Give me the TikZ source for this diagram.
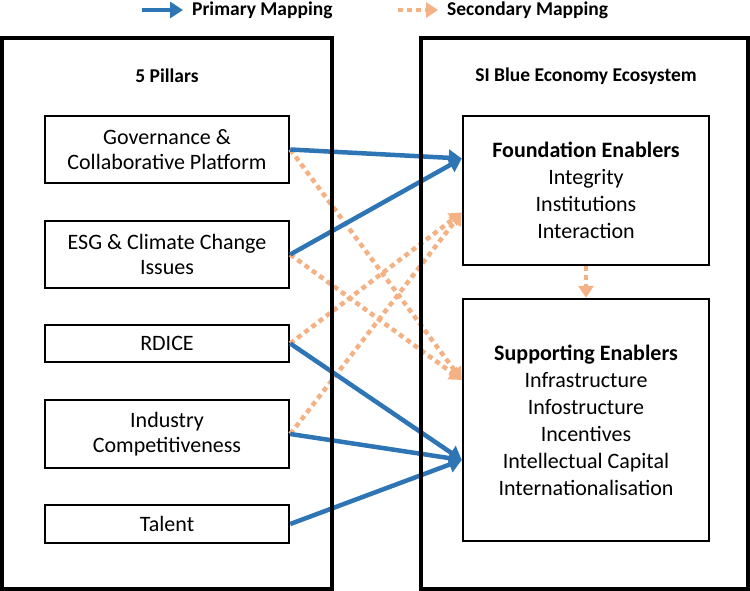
\documentclass[tikz,border=0pt]{standalone}
\usepackage{fontspec}
\setmainfont{Carlito}
\usetikzlibrary{arrows.meta}
\definecolor{pblue}{RGB}{46,117,182}
\definecolor{sorange}{RGB}{244,177,131}
\begin{document}
\begin{tikzpicture}[x=1pt,y=-1pt,
  frame/.style={draw=black, line width=3.5pt, inner sep=0pt, minimum height=551pt},
  pillar/.style={draw=black, line width=2.5pt, minimum width=244pt, align=center, inner sep=0pt, font=\fontsize{22}{25.5}\selectfont},
  enabler/.style={draw=black, line width=2.5pt, minimum width=246pt, align=center, inner sep=0pt, font=\fontsize{22}{27}\selectfont},
  head/.style={font=\bfseries\fontsize{19.5}{22}\selectfont, inner sep=0pt},
  legendtext/.style={font=\bfseries\fontsize{19.5}{22}\selectfont, inner sep=0pt, anchor=west},
  primary/.style={draw=pblue, line width=4.5pt, -{Triangle[length=13pt,width=16pt]}},
  secondary/.style={draw=sorange, line width=4.5pt, dash pattern=on 5pt off 4pt, -{Triangle[length=12pt,width=15pt]}}]
\useasboundingbox (0,0) rectangle (750,591);
% legend
\coordinate (lp1) at (142,10);
\coordinate (lp2) at (183,10);
\coordinate (ls1) at (398,10);
\coordinate (ls2) at (438,10);
\draw[primary, line width=4pt] (lp1) -- (lp2);
\draw[secondary, line width=4pt] (ls1) -- (ls2);
\node[legendtext] (lpt) at (192,10) {Primary Mapping};
\node[legendtext] (lst) at (447,10) {Secondary Mapping};
% headers
\node[head] (h1) at (167,76) {5 Pillars};
\node[head] (h2) at (586,76) {SI Blue Economy Ecosystem};
% pillars
\node[pillar, minimum height=67pt] (gov) at (167,149.5) {Governance \&\\Collaborative Platform};
\node[pillar, minimum height=67pt] (esg) at (167,254.5) {ESG \& Climate Change\\Issues};
\node[pillar, minimum height=37pt] (rdice) at (167,343.5) {RDICE};
\node[pillar, minimum height=68pt] (ind) at (167,434) {Industry\\Competitiveness};
\node[pillar, minimum height=38pt] (tal) at (167,524) {Talent};
% enablers
\node[enabler, minimum height=149pt] (found) at (586,190.5) {\textbf{Foundation Enablers}\\Integrity\\Institutions\\Interaction};
\node[enabler, minimum height=242pt] (supp) at (586,420) {\textbf{Supporting Enablers}\\Infrastructure\\Infostructure\\Incentives\\Intellectual Capital\\Internationalisation};
% secondary mappings
\draw[secondary] (gov.east) -- ([yshift=40pt]supp.west);
\draw[secondary] (esg.east) -- ([yshift=40pt]supp.west);
\draw[secondary] (rdice.east) -- ([yshift=-22pt]found.west);
\draw[secondary] (ind.east) -- ([yshift=-22pt]found.west);
\draw[secondary] (found.south) -- (supp.north);
% primary mappings
\draw[primary] (gov.east) -- ([yshift=32pt]found.west);
\draw[primary] (esg.east) -- ([yshift=32pt]found.west);
\draw[primary] (rdice.east) -- ([yshift=-40pt]supp.west);
\draw[primary] (ind.east) -- ([yshift=-40pt]supp.west);
\draw[primary] (tal.east) -- ([yshift=-40pt]supp.west);
% frames
\node[frame, minimum width=330pt] (leftframe) at (167,313.5) {};
\node[frame, minimum width=327pt] (rightframe) at (584.5,313.5) {};
\end{tikzpicture}
\end{document}
